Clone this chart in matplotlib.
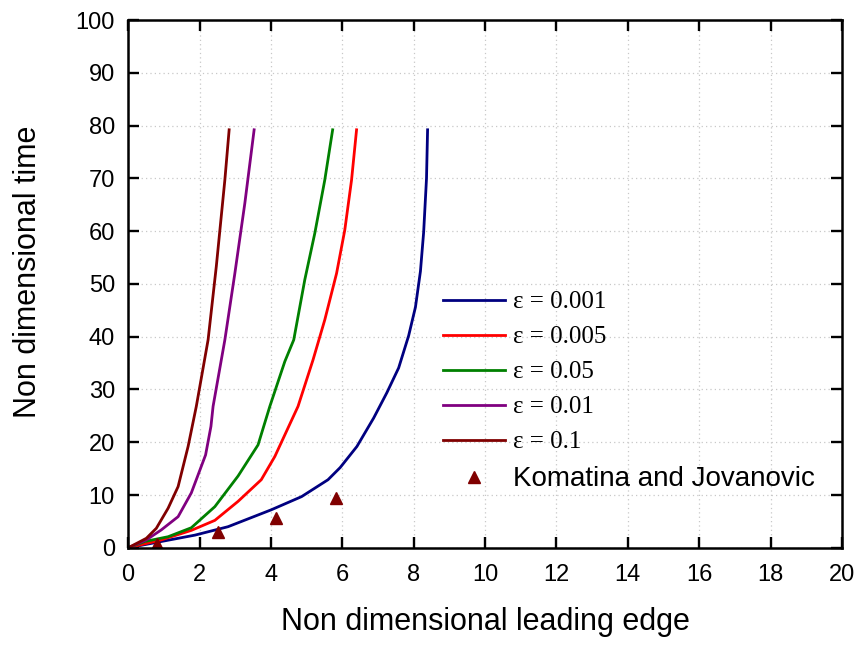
import numpy as np
import matplotlib
matplotlib.use("Agg")
import matplotlib.pyplot as plt

plt.rcParams['font.family'] = ['Liberation Sans', 'DejaVu Sans']

# eps = 0.001
x1 = [0, 0.93, 1.87, 2.80, 4.01, 4.86, 5.60, 5.94, 6.41, 6.88, 7.25, 7.58, 7.86, 8.05, 8.19, 8.28, 8.36, 8.39]
y1 = [0, 1.2, 2.4, 4.0, 7.2, 9.7, 12.9, 15.2, 19.2, 24.6, 29.4, 34.1, 40.2, 45.6, 52.4, 59.8, 70.0, 79.2]
# eps = 0.005
x2 = [0, 0.93, 1.77, 2.43, 3.08, 3.73, 4.11, 4.76, 5.18, 5.51, 5.84, 6.07, 6.26, 6.40]
y2 = [0, 1.5, 3.3, 5.2, 8.8, 12.9, 17.3, 26.8, 35.6, 43.2, 52.0, 60.2, 69.7, 79.2]
# eps = 0.05
x3 = [0, 0.47, 1.12, 1.77, 2.43, 3.08, 3.64, 3.97, 4.39, 4.64, 4.95, 5.23, 5.51, 5.73]
y3 = [0, 1.2, 2.1, 3.8, 7.8, 13.6, 19.5, 26.8, 35.3, 39.4, 50.8, 59.6, 69.7, 79.2]
# eps = 0.01
x4 = [0, 0.51, 0.93, 1.40, 1.77, 2.17, 2.32, 2.38, 2.71, 2.99, 3.27, 3.53]
y4 = [0, 1.5, 3.4, 5.9, 10.4, 17.6, 23.0, 26.8, 39.4, 52.0, 65.3, 79.2]
# eps = 0.1
x5 = [0, 0.51, 0.79, 1.12, 1.40, 1.68, 1.91, 2.24, 2.47, 2.71, 2.83]
y5 = [0, 1.8, 3.7, 7.5, 11.6, 19.2, 26.8, 39.4, 53.3, 69.7, 79.2]
# Komatina and Jovanovic
xk = [0.82, 2.52, 4.13, 5.83]
yk = [0.8, 3.0, 5.6, 9.5]

labels = ['ε = 0.001', 'ε = 0.005', 'ε = 0.05', 'ε = 0.01', 'ε = 0.1']
colors = ['#000080', '#ff0000', '#008000', '#800080', '#800000']

fig = plt.figure(figsize=(8.6, 6.46), dpi=100)
ax = fig.add_axes([0.149, 0.152, 0.830, 0.817])

for xs, ys, lab, c in zip([x1, x2, x3, x4, x5], [y1, y2, y3, y4, y5], labels, colors):
    ax.plot(xs, ys, color=c, lw=2.0, label=lab)
ax.plot(xk, yk, '^', color='#800000', ms=9, ls='none', label='Komatina and Jovanovic')

ax.set_xlim(0, 20)
ax.set_ylim(0, 100)
ax.set_xticks(np.arange(0, 21, 2))
ax.set_yticks(np.arange(0, 101, 10))
ax.grid(True, ls=(0, (1, 2.5)), color='#c8c8c8', lw=0.9)
ax.tick_params(direction='in', length=8, width=1.7, top=True, right=True, labelsize=17)
ax.tick_params(axis='x', pad=12)
ax.tick_params(axis='y', pad=9.5)
for s in ax.spines.values():
    s.set_linewidth(1.8)

ax.set_xlabel('Non dimensional leading edge', fontsize=22)
ax.set_ylabel('Non dimensional time', fontsize=22)
ax.xaxis.set_label_coords(0.5, -0.113)
ax.yaxis.set_label_coords(-0.119, 0.523)

leg = ax.legend(loc='upper left', bbox_to_anchor=(0.441, 0.487), frameon=False,
                fontsize=18, handlelength=2.5, labelspacing=0.5, borderaxespad=0,
                borderpad=0, handletextpad=0.32)
for t in leg.get_texts()[:5]:
    t.set_family(['Liberation Serif', 'DejaVu Serif'])
leg.get_texts()[5].set_fontsize(20)

fig.savefig('out.png', dpi=100)
